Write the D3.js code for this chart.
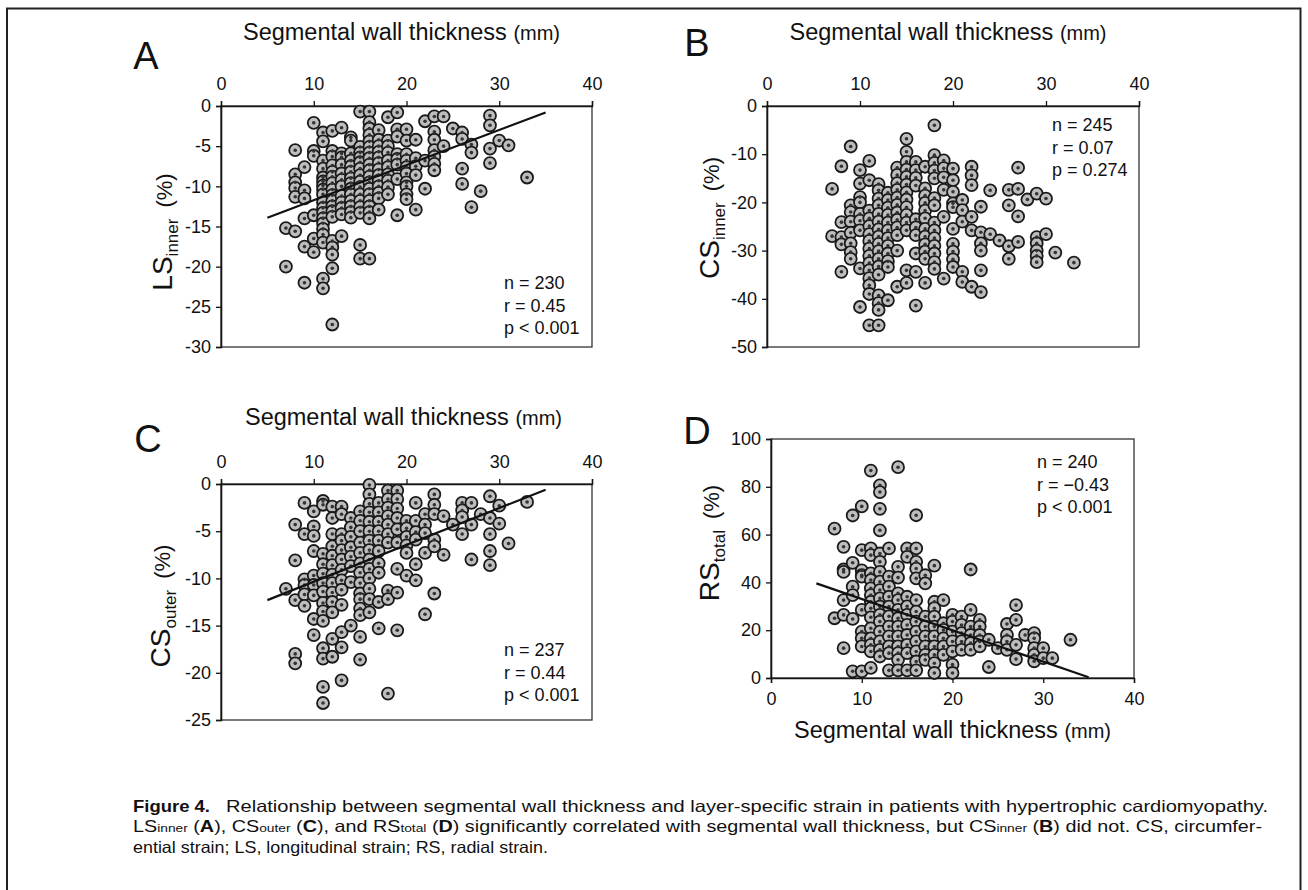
<!DOCTYPE html>
<html><head><meta charset="utf-8">
<script src="https://cdn.jsdelivr.net/npm/d3@7"></script>
<style>
body{margin:0;background:#fff}
svg{display:block}
text{font-family:"Liberation Sans",Arial,Helvetica,sans-serif;fill:#111}
</style>
</head><body>
<svg id="chart" width="1308" height="890"></svg>
<script>
// ---------- shared ----------
const xTickValues = [0, 10, 20, 30, 40];
const xTitle = "Segmental wall thickness";
const xTitleUnit = "(mm)";

// ---------- panel A : LS inner ----------
const aYTicks = [0, -5, -10, -15, -20, -25, -30];
const aColumns = [
  [7, [-15.2, -20.0]],
  [8, [-5.5, -8.5, -9.5, -10.2, -11.3, -15.6]],
  [9, [-7.6, -10.5, -11.5, -14.0, -17.5, -22.0]],
  [10, [-2.1, -5.6, -6.2, -13.6, -16.5, -18.2]],
  [11, [-3.3, -4.4, -6.8, -7.8, -8.9, -9.4, -9.9, -10.4, -11.0, -12.0, -12.7, -13.3, -14.0, -14.6, -15.3, -16.0, -17.0, -21.5, -22.7]],
  [12, [-3.1, -5.6, -6.3, -7.4, -8.2, -8.8, -9.6, -10.4, -11.1, -11.8, -12.5, -13.1, -13.8, -16.8, -17.6, -18.5, -20.2, -27.2]],
  [13, [-2.7, -5.9, -6.4, -7.3, -8.4, -9.2, -10.0, -11.2, -12.0, -12.7, -13.5, -16.2]],
  [14, [-3.9, -4.3, -5.9, -6.8, -7.5, -8.2, -9.0, -9.6, -10.3, -11.0, -11.8, -12.5, -13.2, -13.9]],
  [15, [-0.7, -5.1, -5.8, -6.4, -7.0, -7.8, -8.6, -9.4, -10.1, -11.0, -11.8, -12.6, -13.3, -17.3, -19.0]],
  [16, [-0.7, -2.0, -2.8, -3.6, -4.4, -5.1, -5.8, -6.5, -7.3, -8.0, -8.8, -9.5, -10.3, -11.0, -11.8, -12.5, -13.2, -14.0, -19.0]],
  [17, [-3.0, -4.2, -5.0, -5.7, -6.4, -7.1, -7.9, -8.6, -9.3, -10.0, -10.8, -11.5, -12.9]],
  [18, [-1.4, -4.3, -5.0, -5.8, -6.8, -7.6, -8.5, -9.3, -10.1, -11.0]],
  [19, [-0.8, -2.9, -3.8, -6.0, -6.6, -7.3, -9.1, -13.6]],
  [20, [-2.9, -4.3, -6.0, -6.8, -7.6, -8.4, -9.5, -10.0, -11.0, -11.6]],
  [21, [-4.2, -6.5, -7.5, -8.6, -12.9]],
  [22, [-1.9, -6.8, -10.3]],
  [23, [-1.3, -3.2, -4.2, -5.5, -6.3, -7.2, -8.0]],
  [24, [-1.3, -5.0]],
  [25, [-2.8]],
  [26, [-3.3, -4.1, -7.8, -9.7]],
  [27, [-4.8, -5.8, -12.6]],
  [28, [-10.6]],
  [29, [-1.2, -2.4, -5.3, -7.1]],
  [30, [-4.3]],
  [31, [-4.9]],
  [33, [-8.9]]
];
const aFit = [[5, -13.9], [35, -0.8]];
const aStats = ["n = 230", "r = 0.45", "p < 0.001"];

// ---------- panel B : CS inner ----------
const bYTicks = [0, -10, -20, -30, -40, -50];
const bColumns = [
  [7, [-17.2, -27.0]],
  [8, [-12.5, -24.1, -27.2, -28.7, -34.4]],
  [9, [-8.4, -20.6, -22.0, -24.0, -26.3, -28.5, -30.3, -31.7]],
  [10, [-13.3, -16.1, -18.9, -20.0, -22.4, -23.8, -25.8, -33.7, -41.7]],
  [11, [-11.4, -15.4, -21.7, -23.3, -24.9, -26.6, -28.0, -29.6, -31.1, -32.6, -34.1, -35.7, -37.2, -39.0, -45.5]],
  [12, [-16.2, -17.5, -19.2, -20.6, -22.4, -24.0, -25.6, -27.1, -28.6, -30.1, -31.7, -33.3, -35.0, -39.3, -40.9, -42.3, -45.5]],
  [13, [-18.0, -19.5, -21.1, -22.6, -24.2, -25.8, -27.4, -29.0, -30.6, -32.2, -33.4, -40.3]],
  [14, [-12.8, -14.3, -16.0, -17.4, -19.0, -20.5, -22.1, -23.6, -25.2, -26.8, -30.0, -37.5]],
  [15, [-6.8, -9.5, -11.6, -13.2, -14.7, -16.3, -17.9, -19.4, -21.0, -22.6, -24.2, -25.8, -34.1, -36.7]],
  [16, [-11.6, -13.3, -14.9, -16.5, -23.5, -25.2, -26.8, -30.6, -34.4, -41.4]],
  [17, [-12.6, -17.1, -18.6, -20.1, -21.7, -23.3, -25.5, -27.1, -28.7, -30.2, -31.7, -36.7]],
  [18, [-4.0, -10.2, -11.8, -13.4, -15.0, -19.1, -20.6, -24.2, -25.8, -27.4, -29.0, -30.6, -32.4, -33.8]],
  [19, [-11.3, -12.9, -14.8, -17.4, -23.0, -35.8]],
  [20, [-13.0, -15.4, -17.8, -20.2, -21.0, -25.5, -28.6, -30.2, -31.8, -33.4]],
  [21, [-19.5, -21.6, -24.0, -34.4, -36.5]],
  [22, [-12.6, -14.4, -16.4, -23.0, -25.8, -37.5]],
  [23, [-20.9, -26.2, -28.5, -30.0, -34.1, -38.6]],
  [24, [-17.5, -26.6]],
  [25, [-27.9]],
  [26, [-17.4, -20.6, -29.1, -31.7]],
  [27, [-12.8, -17.2, -22.9, -28.2]],
  [28, [-19.4]],
  [29, [-18.2, -27.2, -28.5, -30.0, -31.1, -32.4]],
  [30, [-19.2, -26.6]],
  [31, [-30.4]],
  [33, [-32.5]]
];
const bStats = ["n = 245", "r = 0.07", "p = 0.274"];

// ---------- panel C : CS outer ----------
const cYTicks = [0, -5, -10, -15, -20, -25];
const cColumns = [
  [7, [-11.1]],
  [8, [-4.3, -8.1, -12.3, -18.0, -19.0]],
  [9, [-2.0, -5.3, -10.1, -10.7, -11.7, -12.9]],
  [10, [-2.9, -4.5, -5.5, -7.1, -9.7, -10.7, -11.8, -14.3, -16.0]],
  [11, [-1.8, -2.2, -7.4, -8.5, -9.5, -10.5, -11.4, -12.6, -13.5, -14.5, -17.4, -18.5, -21.5, -23.2]],
  [12, [-2.4, -3.6, -5.3, -6.6, -7.6, -8.6, -9.6, -10.5, -11.5, -12.5, -13.6, -16.4, -18.3]],
  [13, [-2.4, -3.2, -5.3, -6.0, -7.0, -8.0, -9.1, -10.2, -11.2, -12.8, -15.7, -17.3, -20.8]],
  [14, [-3.6, -4.6, -5.6, -6.7, -7.7, -8.7, -10.4, -15.0]],
  [15, [-2.9, -3.9, -5.0, -6.2, -7.3, -8.4, -9.4, -10.5, -11.6, -12.2, -13.2, -13.9, -16.2, -18.6]],
  [16, [-0.1, -1.1, -2.1, -3.0, -4.0, -5.0, -6.0, -7.0, -8.0, -9.0, -10.0, -11.1, -12.2, -13.6]],
  [17, [-2.0, -3.0, -4.0, -5.0, -6.0, -7.1, -8.4, -9.4, -12.5, -15.3]],
  [18, [-0.7, -1.6, -2.5, -3.4, -4.3, -5.3, -6.2, -11.3, -12.2, -22.2]],
  [19, [-0.7, -1.6, -2.6, -3.6, -4.8, -6.2, -9.0, -11.5, -15.5]],
  [20, [-3.9, -4.7, -5.6, -6.5, -7.3, -9.7]],
  [21, [-2.0, -3.9, -5.1, -5.9, -8.5, -10.2]],
  [22, [-3.2, -4.3, -5.2, -7.3, -13.8]],
  [23, [-1.1, -2.2, -3.2, -5.9, -6.6, -11.6]],
  [24, [-3.4, -7.5]],
  [25, [-4.3]],
  [26, [-2.0, -2.8, -3.5, -5.3]],
  [27, [-2.0, -4.3, -8.0]],
  [28, [-3.2]],
  [29, [-1.3, -3.6, -5.3, -7.1, -8.6]],
  [30, [-2.3, -4.2]],
  [31, [-6.3]],
  [33, [-1.9]]
];
const cFit = [[5, -12.3], [35, -0.6]];
const cStats = ["n = 237", "r = 0.44", "p < 0.001"];

// ---------- panel D : RS total ----------
const dYTicks = [0, 20, 40, 60, 80, 100];
const dColumns = [
  [7, [62.5, 25.0]],
  [8, [54.9, 45.4, 44.4, 32.6, 26.4, 12.5]],
  [9, [68.0, 48.2, 38.2, 34.7, 24.7, 2.8]],
  [10, [71.8, 53.5, 45.0, 43.0, 42.4, 28.5, 19.4, 16.6, 13.2, 2.8]],
  [11, [86.8, 54.2, 51.4, 43.8, 41.0, 37.5, 34.7, 31.9, 29.2, 25.4, 20.8, 16.6, 13.9, 11.1, 4.2]],
  [12, [80.6, 77.8, 70.8, 61.8, 52.1, 48.6, 44.4, 40.3, 36.8, 33.3, 29.9, 26.4, 23.6, 19.4, 15.3, 11.8, 9.0]],
  [13, [54.2, 42.4, 38.2, 34.0, 29.9, 25.8, 21.5, 17.4, 13.2, 10.4, 3.2]],
  [14, [88.2, 46.5, 42.0, 35.4, 32.6, 28.5, 25.0, 21.5, 17.4, 13.2, 10.4, 7.6, 3.2]],
  [15, [54.2, 50.7, 34.0, 30.0, 26.4, 22.2, 18.0, 13.9, 10.4, 3.2]],
  [16, [68.1, 54.2, 48.6, 45.8, 41.7, 32.6, 27.8, 23.6, 19.4, 15.3, 11.1, 6.9, 3.2]],
  [17, [43.0, 39.6, 25.7, 21.5, 17.4, 13.2, 9.7, 7.6]],
  [18, [47.0, 31.9, 29.2, 25.7, 21.5, 17.4, 13.2, 9.7, 6.2, 2.1]],
  [19, [32.6, 22.9, 20.1, 16.6, 13.2, 9.7]],
  [20, [26.4, 23.6, 19.4, 15.3, 11.1, 5.6, 2.1]],
  [21, [25.7, 22.2, 18.8, 15.3, 11.8]],
  [22, [45.4, 28.5, 21.5, 18.0, 14.6, 11.8]],
  [23, [24.3, 21.5, 18.0, 15.3, 13.2]],
  [24, [16.0, 4.6]],
  [25, [12.5]],
  [26, [22.6, 18.0, 15.3, 11.8]],
  [27, [30.5, 24.3, 13.9, 7.9]],
  [28, [18.0]],
  [29, [18.8, 16.6, 12.5, 9.7, 7.0]],
  [30, [12.5, 8.3]],
  [31, [8.3]],
  [33, [16.0]]
];
const dFit = [[5, 39.6], [35, 0.3]];
const dStats = ["n = 240", "r = \u22120.43", "p < 0.001"];

// ---------- caption ----------
const captionBold = "Figure 4.";
const captionLine1 = "Relationship between segmental wall thickness and layer-specific strain in patients with hypertrophic cardiomyopathy.";
const captionLine2 = [["LS",""],["inner","s"],[" (",""],["A","b"],["), CS",""],["outer","s"],[" (",""],["C","b"],["), and RS",""],["total","s"],[" (",""],["D","b"],[") significantly correlated with segmental wall thickness, but CS",""],["inner","s"],[" (",""],["B","b"],[") did not. CS, circumfer-",""]];
const captionLine3 = "ential strain; LS, longitudinal strain; RS, radial strain.";

// ---------- drawing ----------
const svg = d3.select("#chart");
const ink = "#151515";

// outer frame
svg.append("path")
  .attr("d", "M7,892 L7,8.5 L1300.5,8.5 L1300.5,892")
  .attr("fill", "none").attr("stroke", "#222").attr("stroke-width", 2);

function drawPanel(cfg) {
  const g = svg.append("g");
  const x = d3.scaleLinear().domain([0, 40]).range([cfg.left, cfg.right]);
  const y = d3.scaleLinear().domain(cfg.yDomain).range([cfg.bottom, cfg.top]);

  // box
  g.append("rect")
    .attr("x", cfg.left).attr("y", cfg.top)
    .attr("width", cfg.right - cfg.left).attr("height", cfg.bottom - cfg.top)
    .attr("fill", "none").attr("stroke", "#333").attr("stroke-width", 1.3);

  // y axis
  const yAxis = g.append("g").attr("transform", `translate(${cfg.left},0)`)
    .call(d3.axisLeft(y).tickValues(cfg.yTicks).tickSize(5).tickPadding(5).tickFormat(d => String(d)));
  yAxis.select(".domain").attr("stroke", ink).attr("stroke-width", 1.6);
  yAxis.selectAll(".tick line").attr("stroke", ink).attr("stroke-width", 1.3);
  yAxis.selectAll("text").attr("font-size", 18).attr("fill", ink)
    .attr("font-family", '"Liberation Sans", Arial, sans-serif');

  // x axis
  const top = cfg.xPos === "top";
  const xAxisGen = (top ? d3.axisTop(x) : d3.axisBottom(x))
    .tickValues(xTickValues).tickSize(5).tickPadding(top ? 11 : 9).tickFormat(d => String(d));
  const xAxis = g.append("g").attr("transform", `translate(0,${top ? cfg.top : cfg.bottom})`).call(xAxisGen);
  xAxis.select(".domain").attr("stroke", ink).attr("stroke-width", 1.4);
  xAxis.selectAll(".tick line").attr("stroke", ink).attr("stroke-width", 1.3);
  xAxis.selectAll("text").attr("font-size", 18).attr("fill", ink)
    .attr("font-family", '"Liberation Sans", Arial, sans-serif');

  // x title
  const xt = g.append("text")
    .attr("x", (cfg.left + cfg.right) / 2 + cfg.titleDx)
    .attr("y", cfg.titleY)
    .attr("text-anchor", "middle");
  xt.append("tspan").attr("font-size", 23.5).text(xTitle + " ");
  xt.append("tspan").attr("font-size", 20).text(xTitleUnit);

  // y title (rotated)
  const yt = g.append("text")
    .attr("transform", `translate(${cfg.yTitleX},${cfg.yTitleY}) rotate(-90)`)
    .attr("text-anchor", "middle");
  yt.append("tspan").attr("font-size", 28).text(cfg.yMain);
  yt.append("tspan").attr("font-size", 17).attr("dy", 6).text(cfg.ySub);
  yt.append("tspan").attr("font-size", 22).attr("dy", -6).text("\u2002(%)");

  // points
  const pts = [];
  cfg.columns.forEach(([cx, ys]) => ys.forEach(v => pts.push([cx, v])));
  const pg = g.append("g");
  pg.selectAll("circle.o").data(pts).join("circle").attr("class", "o")
    .attr("cx", d => x(d[0])).attr("cy", d => y(d[1])).attr("r", 6)
    .attr("fill", "#bdbdbd").attr("stroke", "#1a1a1a").attr("stroke-width", 1.8);
  pg.selectAll("circle.i").data(pts).join("circle").attr("class", "i")
    .attr("cx", d => x(d[0])).attr("cy", d => y(d[1])).attr("r", 1.8)
    .attr("fill", "#333");

  // fit line
  if (cfg.fit) {
    g.append("line")
      .attr("x1", x(cfg.fit[0][0])).attr("y1", y(cfg.fit[0][1]))
      .attr("x2", x(cfg.fit[1][0])).attr("y2", y(cfg.fit[1][1]))
      .attr("stroke", "#111").attr("stroke-width", 2.2);
  }

  // stats
  const st = g.append("g");
  cfg.stats.forEach((s, i) => {
    st.append("text").attr("x", cfg.statsX).attr("y", cfg.statsY + i * 22.5)
      .attr("font-size", 18).attr("fill", ink).text(s);
  });

  // panel letter
  g.append("text").attr("x", cfg.letterX).attr("y", cfg.letterY)
    .attr("font-size", 38).attr("text-anchor", "middle").attr("fill", ink).text(cfg.letter);
}

drawPanel({
  letter: "A", letterX: 146, letterY: 69,
  left: 221, right: 592, top: 106, bottom: 347,
  yDomain: [-30, 0], yTicks: aYTicks, xPos: "top",
  titleY: 40, titleDx: -5,
  yMain: "LS", ySub: "inner", yTitleX: 172, yTitleY: 232,
  columns: aColumns, fit: aFit, stats: aStats, statsX: 504, statsY: 289
});
drawPanel({
  letter: "B", letterX: 697, letterY: 56,
  left: 767, right: 1139, top: 106, bottom: 347,
  yDomain: [-50, 0], yTicks: bYTicks, xPos: "top",
  titleY: 40, titleDx: -5,
  yMain: "CS", ySub: "inner", yTitleX: 719, yTitleY: 218,
  columns: bColumns, fit: null, stats: bStats, statsX: 1052, statsY: 131
});
drawPanel({
  letter: "C", letterX: 148, letterY: 452,
  left: 221, right: 592, top: 484, bottom: 720,
  yDomain: [-25, 0], yTicks: cYTicks, xPos: "top",
  titleY: 425, titleDx: -3,
  yMain: "CS", ySub: "outer", yTitleX: 170, yTitleY: 606,
  columns: cColumns, fit: cFit, stats: cStats, statsX: 504, statsY: 656
});
drawPanel({
  letter: "D", letterX: 697, letterY: 444,
  left: 771, right: 1134, top: 439, bottom: 678,
  yDomain: [0, 100], yTicks: dYTicks, xPos: "bottom",
  titleY: 738, titleDx: 0,
  yMain: "RS", ySub: "total", yTitleX: 719, yTitleY: 543,
  columns: dColumns, fit: dFit, stats: dStats, statsX: 1037, statsY: 468
});

// caption
const cap = svg.append("g").attr("fill", "#222");
cap.append("text").attr("x", 133).attr("y", 812)
  .attr("font-size", 16.5).attr("font-weight", "bold")
  .attr("textLength", 77).attr("lengthAdjust", "spacingAndGlyphs").text(captionBold);
cap.append("text").attr("x", 226).attr("y", 812)
  .attr("font-size", 16.5).attr("textLength", 1042).attr("lengthAdjust", "spacingAndGlyphs")
  .text(captionLine1);
const l2 = cap.append("text").attr("x", 133).attr("y", 832).attr("font-size", 16.5)
  .attr("textLength", 1129).attr("lengthAdjust", "spacingAndGlyphs");
captionLine2.forEach(([t, k]) => {
  const ts = l2.append("tspan").text(t);
  if (k === "s") ts.attr("font-size", 11.5);
  if (k === "b") ts.attr("font-weight", "bold");
});
cap.append("text").attr("x", 133).attr("y", 853).attr("font-size", 16.5)
  .attr("textLength", 415).attr("lengthAdjust", "spacingAndGlyphs").text(captionLine3);
</script>
</body></html>
